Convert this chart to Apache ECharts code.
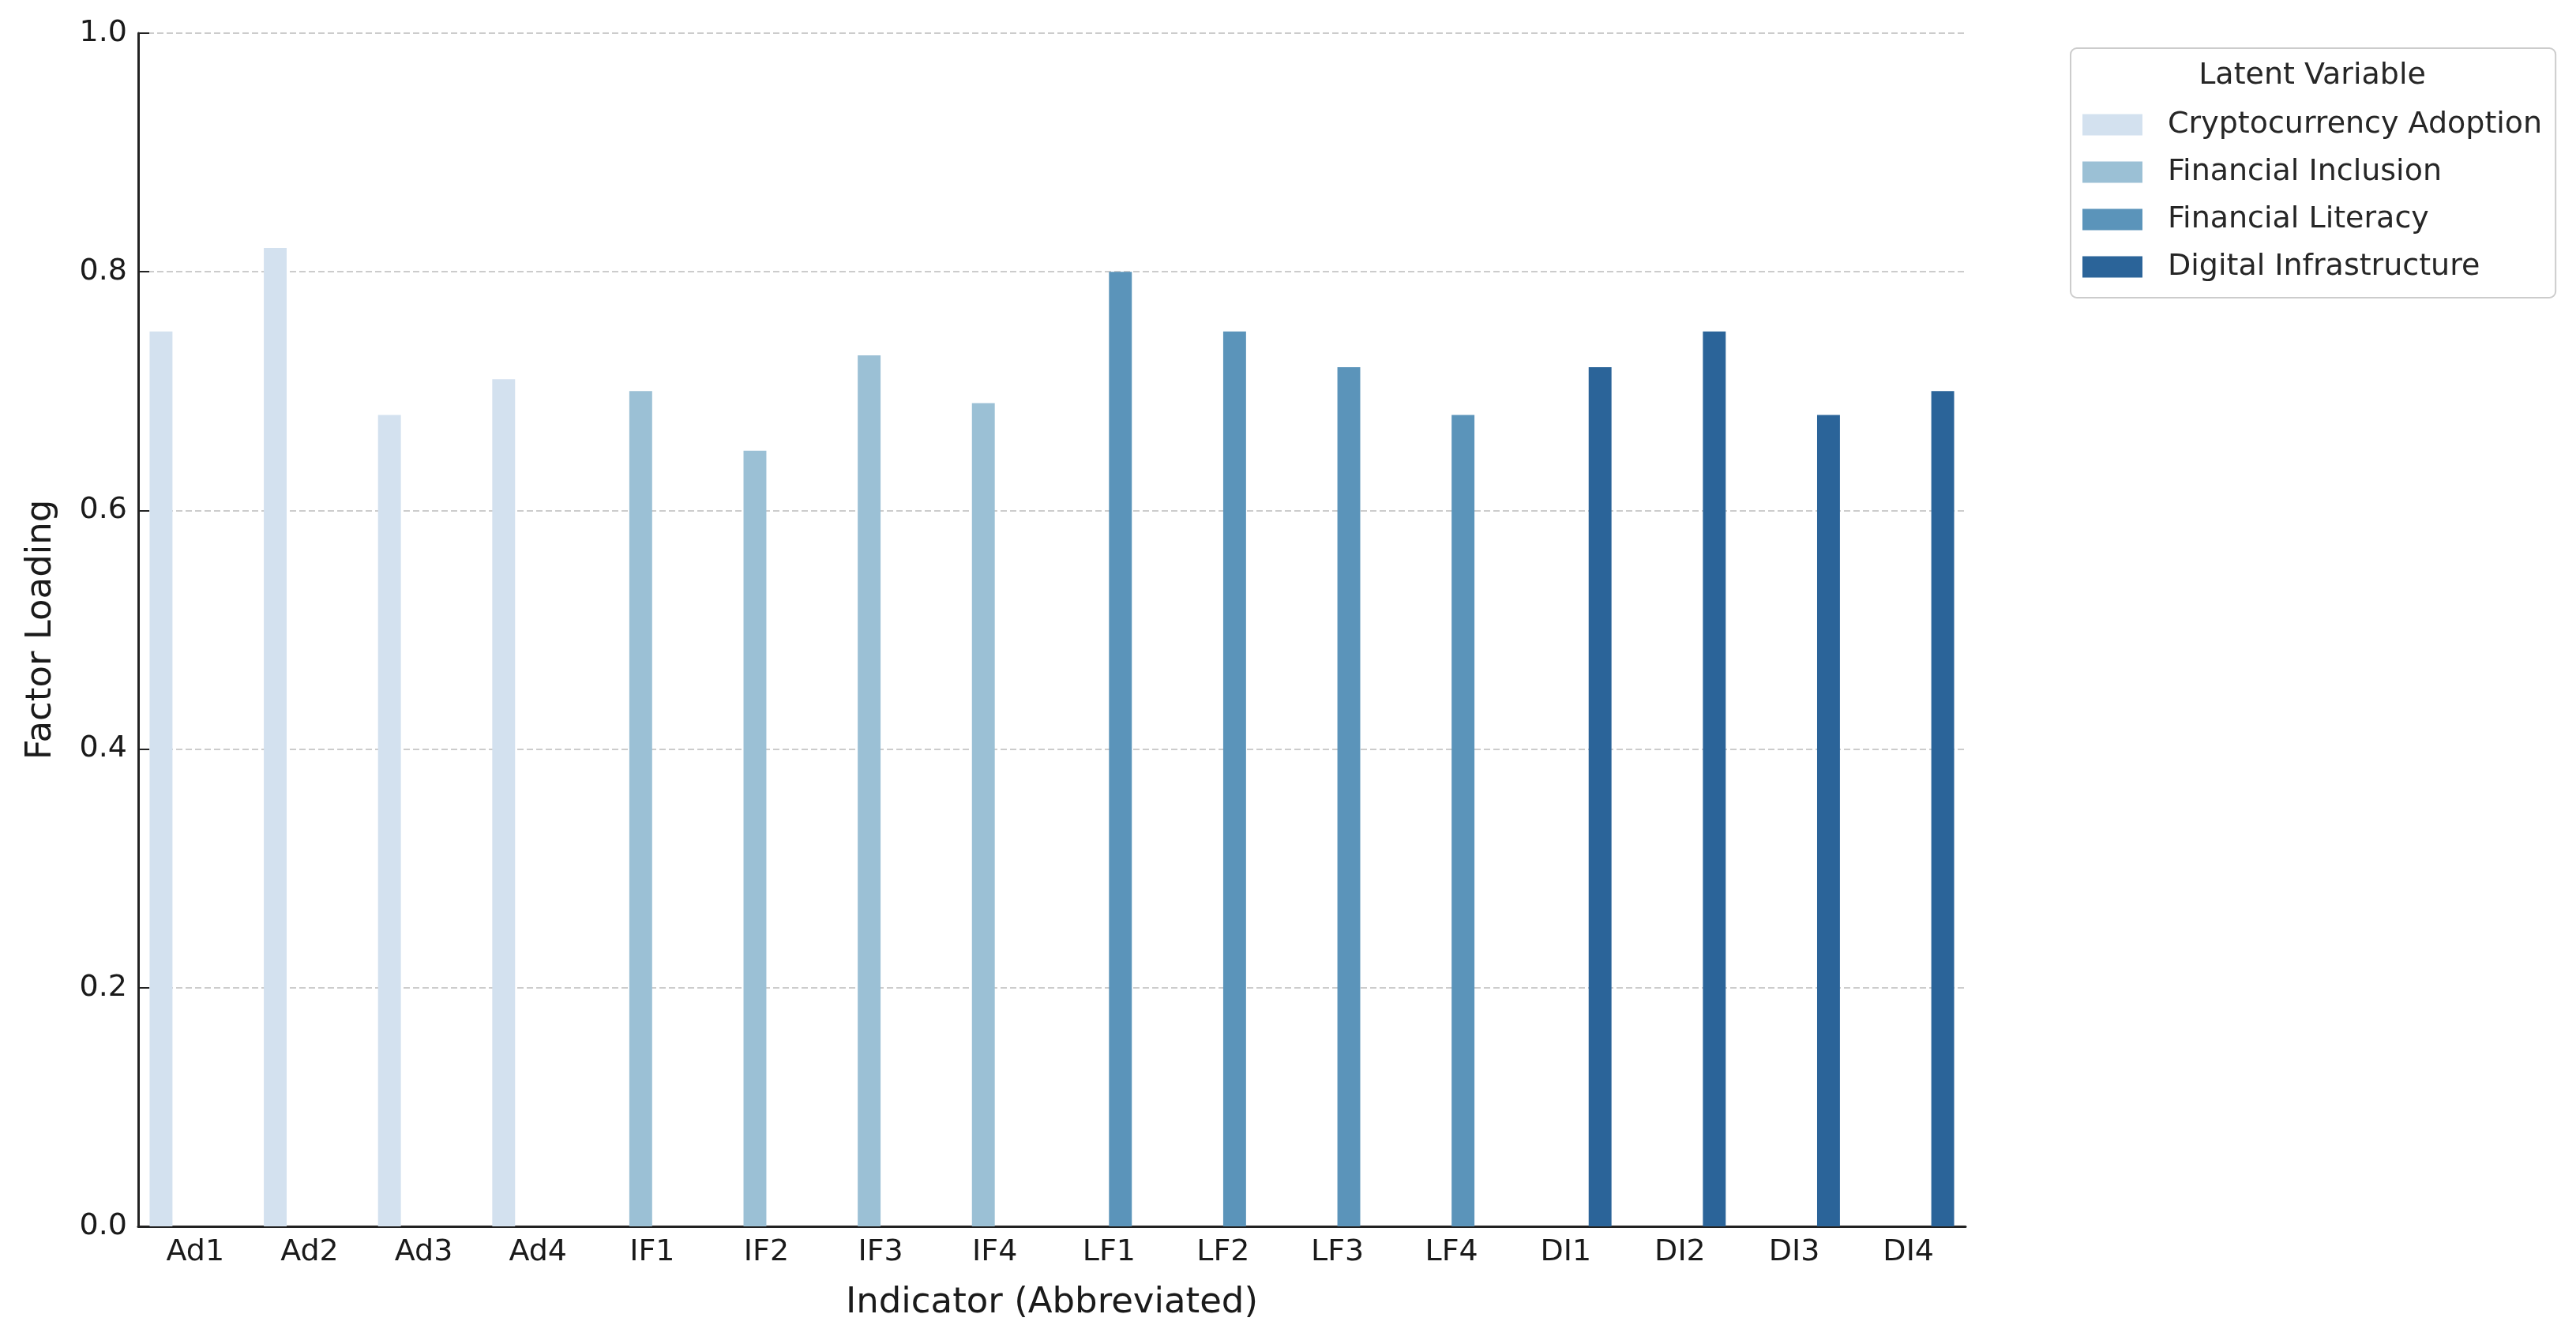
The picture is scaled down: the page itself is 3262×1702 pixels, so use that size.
<!DOCTYPE html>
<html>
<head>
<meta charset="utf-8">
<script src="https://cdn.jsdelivr.net/npm/echarts@6/dist/echarts.min.js"></script>
<style>
  html, body { margin: 0; padding: 0; background: #ffffff; }
  #chart { width: 3262px; height: 1702px; }
</style>
</head>
<body>
<div id="chart"></div>
<script>
// ---- data ----
const categories = ['Ad1','Ad2','Ad3','Ad4','IF1','IF2','IF3','IF4','LF1','LF2','LF3','LF4','DI1','DI2','DI3','DI4'];
const loadings   = [0.75, 0.82, 0.68, 0.71, 0.70, 0.65, 0.73, 0.69, 0.80, 0.75, 0.72, 0.68, 0.72, 0.75, 0.68, 0.70];
const latentOf   = [0, 0, 0, 0, 1, 1, 1, 1, 2, 2, 2, 2, 3, 3, 3, 3];
const latentNames = ['Cryptocurrency Adoption', 'Financial Inclusion', 'Financial Literacy', 'Digital Infrastructure'];
const latentColors = ['#d3e1ef', '#9bc0d5', '#5b94ba', '#2b6499'];
const yTicks = [0, 0.2, 0.4, 0.6, 0.8, 1.0];

const FONT = 'DejaVu Sans';
const chart = echarts.init(document.getElementById('chart'), null, { renderer: 'canvas' });

const series = latentNames.map((name, i) => ({
  name: name,
  type: 'bar',
  barGap: '0%',
  barCategoryGap: '20%',
  itemStyle: { color: latentColors[i] },
  data: loadings.map((v, j) => latentOf[j] === i ? v : null)
}));

chart.setOption({
  backgroundColor: '#ffffff',
  animation: false,
  textStyle: { fontFamily: FONT },
  grid: { left: 175, right: 773, top: 42, bottom: 149, containLabel: false },
  xAxis: {
    type: 'category',
    data: categories,
    name: 'Indicator (Abbreviated)',
    nameLocation: 'middle',
    nameGap: 75,
    nameTextStyle: { fontSize: 45, color: '#1a1a1a', fontFamily: FONT },
    axisLine: { lineStyle: { color: '#222222', width: 3 } },
    axisTick: { inside: true, length: 14, alignWithLabel: true, lineStyle: { color: '#222222', width: 2 } },
    axisLabel: { fontSize: 38, color: '#1a1a1a', margin: 14, fontFamily: FONT },
    splitLine: { show: false }
  },
  yAxis: {
    type: 'value',
    min: yTicks[0],
    max: yTicks[yTicks.length - 1],
    interval: 0.2,
    name: 'Factor Loading',
    nameLocation: 'middle',
    nameGap: 100,
    nameTextStyle: { fontSize: 45, color: '#1a1a1a', fontFamily: FONT },
    axisLine: { show: true, lineStyle: { color: '#222222', width: 3 } },
    axisTick: { show: true, inside: true, length: 14, lineStyle: { color: '#222222', width: 2 } },
    axisLabel: { fontSize: 38, color: '#1a1a1a', margin: 14, fontFamily: FONT, formatter: v => v.toFixed(1) },
    splitLine: { show: true, lineStyle: { color: '#cccccc', width: 2, type: [8, 4] } }
  },
  legend: {
    orient: 'vertical',
    left: 2622,
    top: 61,
    icon: 'rect',
    itemWidth: 76,
    itemHeight: 27,
    itemGap: 22,
    padding: [78, 17, 20, 15],
    backgroundColor: '#ffffff',
    borderColor: '#cccccc',
    borderWidth: 2,
    borderRadius: 8,
    textStyle: { fontSize: 38, color: '#262626', fontFamily: FONT, padding: [0, 0, 0, 27] },
    data: latentNames
  },
  graphic: [{
    type: 'text',
    x: 2928,
    y: 96,
    z: 100,
    style: {
      text: 'Latent Variable',
      fontSize: 38,
      fontFamily: FONT,
      fill: '#262626',
      textAlign: 'center',
      textVerticalAlign: 'middle'
    }
  }],
  series: series
});
</script>
</body>
</html>
